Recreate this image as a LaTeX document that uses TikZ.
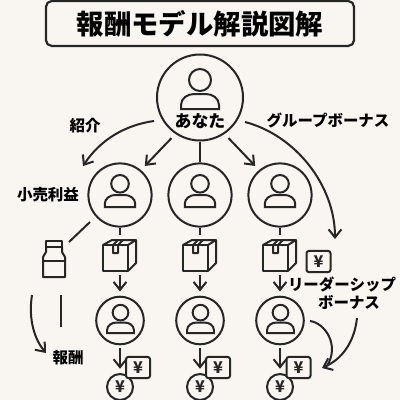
\documentclass[tikz,border=0pt]{standalone}
\usepackage{fontspec}
\setmainfont{Noto Sans CJK JP Black}
\usepackage{xcolor}
\usetikzlibrary{arrows.meta, positioning, calc}
\definecolor{paper}{HTML}{F9F6F1}
\definecolor{ink}{HTML}{262626}
\tikzstyle{titlebox} = [rectangle, rounded corners=1.4mm, minimum width=77mm, minimum height=11.2mm, line width=0.55mm, draw=ink, fill=paper, font=\fontsize{19.5}{22}\selectfont, text=black]
\tikzstyle{member} = [circle, inner sep=0pt, line width=0.5mm, draw=ink]
\tikzstyle{label} = [inner sep=0pt, text=black, font=\fontsize{11}{14}\selectfont]
\tikzstyle{yencard} = [rectangle, rounded corners=0.6mm, minimum width=6mm, minimum height=5.3mm, inner sep=0pt, line width=0.5mm, draw=ink, fill=paper, text=ink, font=\fontsize{11.5}{11.5}\selectfont]
\tikzstyle{coin} = [circle, minimum size=6.5mm, inner sep=0pt, line width=0.5mm, draw=ink, fill=paper, text=ink, font=\fontsize{11.5}{11.5}\selectfont]
\tikzstyle{arrow} = [line width=0.5mm, draw=ink, -{Straight Barb[length=2mm,width=3.2mm]}]
\tikzstyle{link} = [line width=0.5mm, draw=ink]
\tikzset{
  person/.pic={
    \draw[link] (0,-9) circle (11);
    \draw[link] (-19,20) -- (-19,16) .. controls (-19,9) and (-12,5) .. (-6,5) -- (6,5) .. controls (12,5) and (19,9) .. (19,16) -- (19,20) -- cycle;
  },
  parcel/.pic={
    \draw[link, line join=round] (-17,-10) rectangle (8,16);
    \draw[link, line join=round] (-17,-10) -- (-8,-15) -- (16,-15) -- (8,-10);
    \draw[link, line join=round] (16,-15) -- (16,8) -- (8,16);
    \draw[link, line join=round] (-7,-10) -- (-7,-2) -- (-2,-2) -- (-2,-10) -- (3,-15);
    \draw[link] (-7,-10) -- (-2,-15);
  },
  bottle/.pic={
    \draw[link, line join=round] (-8,-18) rectangle (8,-12);
    \draw[link, line join=round] (-8,-12) -- (-8,-7) -- (-11,-2) -- (-11,18) -- (11,18) -- (11,-2) -- (8,-7) -- (8,-12);
    \draw[link] (-11,2) -- (11,2);
  }
}
\begin{document}
\begin{tikzpicture}[x=0.25mm, y=-0.25mm]
    \fill[paper] (0,0) rectangle (400,400);
    \useasboundingbox (0,0) rectangle (400,400);

    \node (title) [titlebox] at (200,23.5) {報酬モデル解説図解};

    % members
    \node (you) [member, minimum size=21.5mm] at (200,97.5) {};
    \node (retail) [member, minimum size=15.8mm] at (120,195) {};
    \node (mid) [member, minimum size=15.8mm] at (200,195) {};
    \node (group) [member, minimum size=15.8mm] at (280,195) {};
    \node (childa) [member, minimum size=11.9mm] at (120,320.5) {};
    \node (childb) [member, minimum size=11.9mm] at (200,320.5) {};
    \node (childc) [member, minimum size=11.9mm] at (280,320.5) {};

    \pic at (200,89) {person};
    \pic[scale=0.8] at (120,191) {person};
    \pic[scale=0.8] at (200,191) {person};
    \pic[scale=0.8] at (280,191) {person};
    \pic[scale=0.71] at (120.5,319) {person};
    \pic[scale=0.71] at (200.5,319) {person};
    \pic[scale=0.71] at (280.5,319) {person};

    % goods
    \pic at (120,255) {parcel};
    \pic at (200,255) {parcel};
    \pic at (280,255) {parcel};
    \pic at (54,259) {bottle};
    \coordinate (boxa) at (120,235);
    \coordinate (boxb) at (200,235);
    \coordinate (boxc) at (280,235);
    \coordinate (boxaout) at (120,275);
    \coordinate (boxbout) at (200,275);
    \coordinate (boxcout) at (280,275);

    % pay
    \node (coina) [coin] at (120,387) {¥};
    \node (coinb) [coin] at (200,387) {¥};
    \node (coinc) [coin] at (280,387) {¥};
    \node (carda) [yencard] at (138,367.5) {¥};
    \node (cardb) [yencard] at (218,367.5) {¥};
    \node (cardc) [yencard] at (298.5,367.5) {¥};
    \node (cardtop) [yencard] at (318.5,261.5) {¥};

    % labels
    \node (youtext) [label, font=\fontsize{12}{14}\selectfont] at (200,121.5) {あなた};
    \node (intro) [label] at (85,126) {紹介};
    \node (groupbonus) [label, font=\fontsize{11}{14}\selectfont] at (328,120) {グループボーナス};
    \node (retailtext) [label] at (48,195) {小売利益};
    \node (reward) [label] at (68,358) {報酬};
    \node (leader) [label, font=\fontsize{11}{14}\selectfont] at (342,285) {リーダーシップ};
    \node (leaderb) [label, font=\fontsize{11}{14}\selectfont] at (349,302) {ボーナス};

    % free ends
    \coordinate (introstart) at (154,121);
    \coordinate (introend) at (83,166);
    \coordinate (gbstart) at (245,122);
    \coordinate (gbend) at (335,239);
    \coordinate (bottlea) at (90,222);
    \coordinate (bottleb) at (69,242);
    \coordinate (stema) at (61,295);
    \coordinate (stemb) at (61,327);
    \coordinate (paya) at (32,295);
    \coordinate (payb) at (46,353);
    \coordinate (leadstart) at (357,318);
    \coordinate (leadend) at (322,368);
    \coordinate (selfstart) at (310,321);
    \coordinate (selfend) at (327,366);

    \draw [arrow] (introstart) .. controls (125,125) and (100,140) .. (introend);
    \draw [arrow, shorten <=4pt, shorten >=4pt] (you.236) -- (retail.50);
    \draw [link] (you) -- (mid);
    \draw [arrow, shorten <=4pt, shorten >=4pt] (you.-56) -- (group.130);
    \draw [arrow] (gbstart) .. controls (295,135) and (335,185) .. (gbend);

    \draw [link] (retail) -- (boxa);
    \draw [link] (mid) -- (boxb);
    \draw [link] (group) -- (boxc);
    \draw [arrow, shorten >=3pt] (boxaout) -- (childa);
    \draw [arrow, shorten >=3pt] (boxbout) -- (childb);
    \draw [arrow, shorten >=3pt] (boxcout) -- (childc);
    \draw [arrow, shorten <=2pt, shorten >=3pt] (childa) -- (coina);
    \draw [arrow, shorten <=2pt, shorten >=3pt] (childb) -- (coinb);
    \draw [arrow, shorten <=2pt, shorten >=3pt] (childc) -- (coinc);

    \draw [link] (bottlea) -- (bottleb);
    \draw [link] (stema) -- (stemb);
    \draw [arrow] (paya) .. controls (28,320) and (35,340) .. (payb);
    \draw [arrow] (leadstart) .. controls (354,345) and (340,360) .. (leadend);
    \draw [link] (selfstart) .. controls (325,323) and (340,345) .. (selfend);
\end{tikzpicture}
\end{document}
